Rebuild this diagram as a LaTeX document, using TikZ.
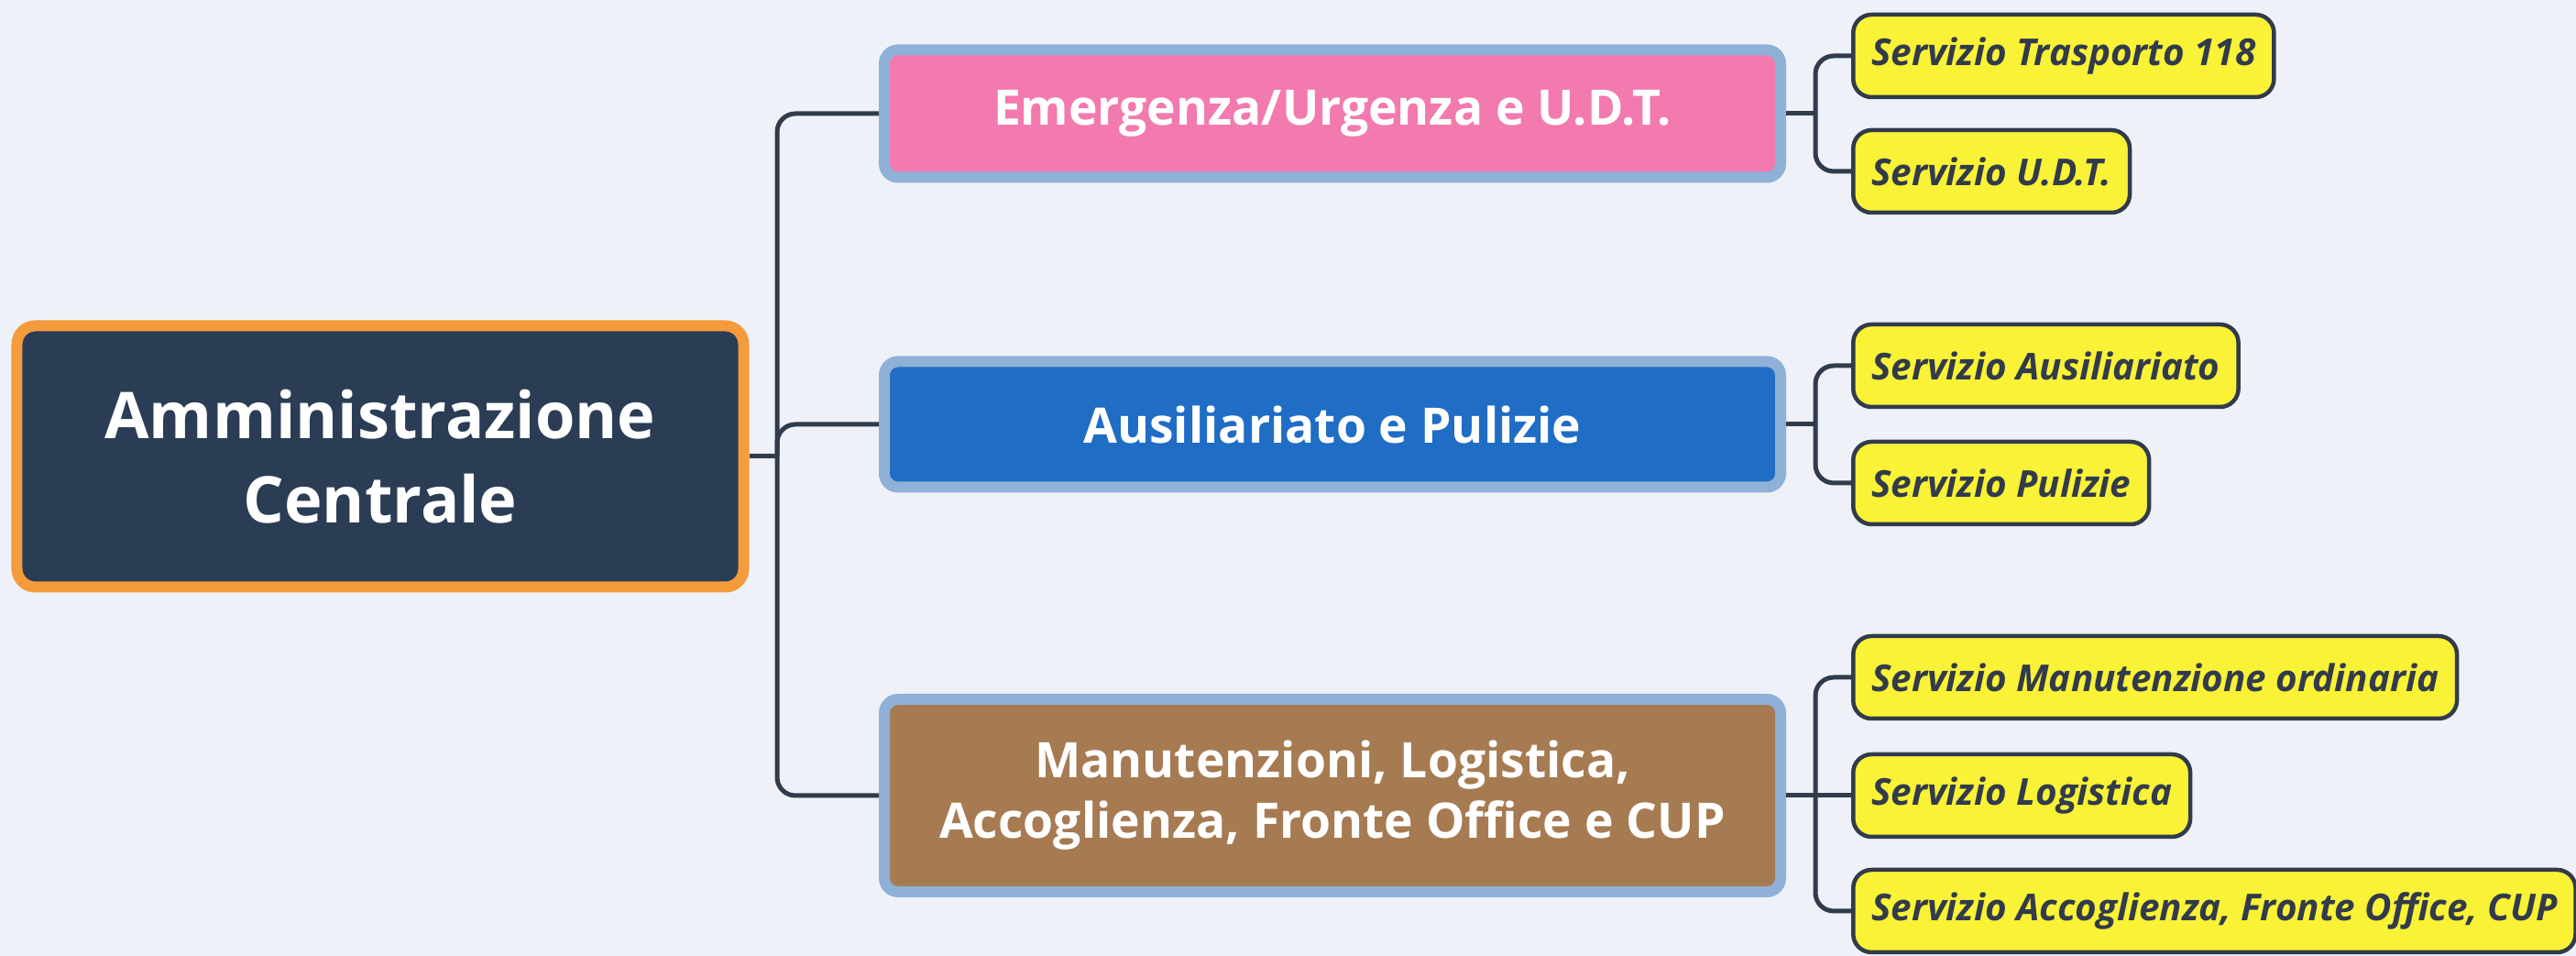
\documentclass[tikz,border=0pt]{standalone}
\usepackage{fontspec}
\setmainfont{Open Sans}
\usepackage{tikz}
\usetikzlibrary{positioning}

\definecolor{paper}{HTML}{EEF1F8}
\definecolor{navy}{HTML}{2B3D55}
\definecolor{orangeedge}{HTML}{F49B3C}
\definecolor{steeledge}{HTML}{8FB0D7}
\definecolor{pinkbox}{HTML}{F27AAE}
\definecolor{bluebox}{HTML}{1F6DC4}
\definecolor{brownbox}{HTML}{A67B52}
\definecolor{yellowbox}{HTML}{F9F236}
\definecolor{inkline}{HTML}{313B4B}

\begin{document}
\begin{tikzpicture}[
    root/.style={draw=orangeedge, line width=0.12cm, fill=navy, rounded corners=0.2cm, text=white,
      font=\fontsize{20}{26}\selectfont\bfseries, align=center, minimum width=7.93cm, minimum height=2.85cm},
    area/.style={draw=steeledge, line width=0.12cm, rounded corners=0.15cm, text=white,
      font=\fontsize{15.2}{18.8}\selectfont\bfseries, align=center, minimum width=9.78cm},
    service/.style={draw=inkline, line width=0.045cm, fill=yellowbox, rounded corners=0.2cm, text=inkline,
      font=\fontsize{11.5}{13}\selectfont\bfseries\itshape, anchor=west, inner xsep=0.2cm, minimum height=0.9cm},
    link/.style={draw=inkline, line width=0.05cm, rounded corners=0.2cm}]
      \useasboundingbox (0,0) rectangle (28.11,10.43);
      \fill[paper] (0,0) rectangle (28.11,10.43);

      \node[root] (admin) at (4.15,5.45) {Amministrazione\\Centrale};

      \node[area, fill=pinkbox, minimum height=1.39cm] (emerg) at (14.54,9.19) {Emergenza/Urgenza e U.D.T.};
      \node[area, fill=bluebox, minimum height=1.37cm] (ausil) at (14.54,5.80) {Ausiliariato e Pulizie};
      \node[area, fill=brownbox, minimum height=2.10cm] (manut) at (14.54,1.75) {Manutenzioni, Logistica,\\Accoglienza, Fronte Office e CUP};

      \node[service] (trasp) at (20.20,9.82) {Servizio Trasporto 118};
      \node[service] (udt) at (20.20,8.56) {Servizio U.D.T.};
      \node[service] (serausil) at (20.20,6.44) {Servizio Ausiliariato};
      \node[service] (pulizie) at (20.20,5.16) {Servizio Pulizie};
      \node[service] (ordin) at (20.20,3.04) {Servizio Manutenzione ordinaria};
      \node[service] (logist) at (20.20,1.75) {Servizio Logistica};
      \node[service] (accogl) at (20.20,0.49) {Servizio Accoglienza, Fronte Office, CUP};

      \coordinate (trunk) at (8.48,5.45);
      \coordinate (forkA) at (19.81,9.19);
      \coordinate (forkB) at (19.81,5.80);
      \coordinate (forkC) at (19.81,1.75);

      \draw[link] (admin.east) -- (trunk);
      \draw[link] (trunk) |- (emerg.west);
      \draw[link] (trunk) |- (ausil.west);
      \draw[link] (trunk) |- (manut.west);

      \draw[link] (emerg.east) -- (forkA);
      \draw[link] (forkA) |- (trasp.west);
      \draw[link] (forkA) |- (udt.west);
      \draw[link] (ausil.east) -- (forkB);
      \draw[link] (forkB) |- (serausil.west);
      \draw[link] (forkB) |- (pulizie.west);
      \draw[link] (manut.east) -- (forkC);
      \draw[link] (forkC) |- (ordin.west);
      \draw[link] (forkC) -- (logist.west);
      \draw[link] (forkC) |- (accogl.west);
\end{tikzpicture}
\end{document}
